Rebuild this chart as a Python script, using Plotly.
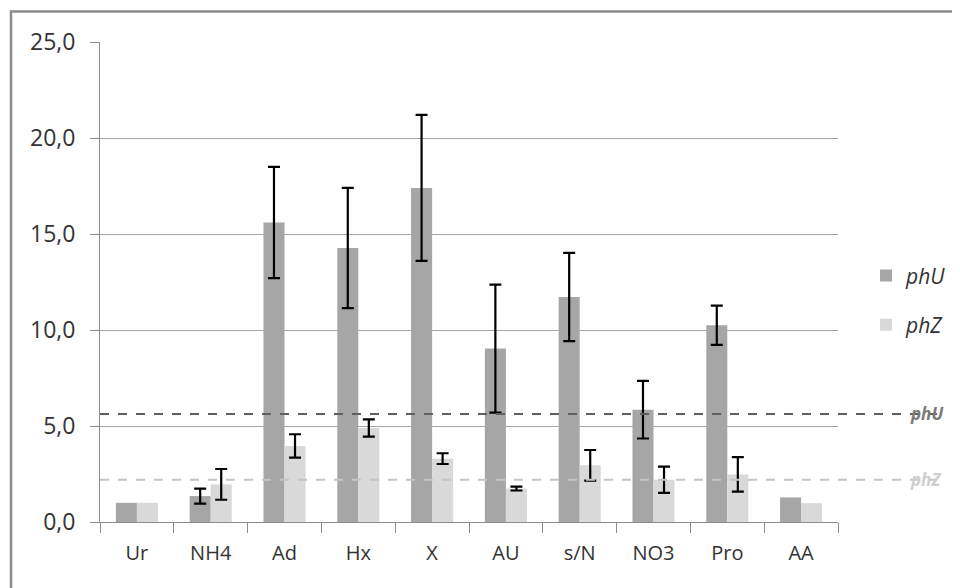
import plotly.graph_objects as go

categories = ["Ur", "NH4", "Ad", "Hx", "X", "AU", "s/N", "NO3", "Pro", "AA"]
phU = [1.0, 1.35, 15.6, 14.27, 17.4, 9.03, 11.72, 5.85, 10.25, 1.28]
phU_err = [None, 0.39, 2.9, 3.13, 3.8, 3.33, 2.3, 1.5, 1.02, None]
phZ = [1.0, 1.96, 3.96, 4.9, 3.3, 1.74, 2.95, 2.2, 2.48, 0.98]
phZ_err = [None, 0.8, 0.61, 0.45, 0.28, 0.1, 0.8, 0.68, 0.9, None]
ref_names = ["phU", "phZ"]
ref_values = [5.63, 2.2]
ref_colors = ["#5f5f5f", "#c4c4c4"]
ref_text_colors = ["#7a7a7a", "#cfcfcf"]

ytick_vals = [0, 5, 10, 15, 20, 25]

font_family = "Open Sans"
text_color = "#333333"

def err(vals):
    # missing values -> "NaN" so that no error bar (and no cap) is drawn
    arr = [v if v is not None else "NaN" for v in vals]
    return dict(type="data", array=arr,
                visible=True, color="black", thickness=2.2, width=6)

fig = go.Figure()
fig.add_trace(go.Bar(name="phU", x=categories, y=phU, marker_color="#a6a6a6",
                     marker_line_width=0, error_y=err(phU_err), legendgroup="a"))
fig.add_trace(go.Bar(name="phZ", x=categories, y=phZ, marker_color="#d9d9d9",
                     marker_line_width=0, error_y=err(phZ_err), legendgroup="b"))

# page body has an 8px margin -> shift all pixel positions by 8
OFF = 8
L, R_px, T, B = 100 - OFF, 838 - OFF, 41.5 - OFF, 521.7 - OFF
W, H = 960 - OFF, 588 - OFF
pw = R_px - L
ph = B - T

shapes = []
annotations = []
for name, val, col, tcol in zip(ref_names, ref_values, ref_colors, ref_text_colors):
    shapes.append(dict(type="line", xref="paper", yref="y",
                       x0=0, x1=(944 - OFF - L) / pw, y0=val, y1=val,
                       line=dict(color=col, width=2, dash="dash"), layer="above"))
    annotations.append(dict(xref="paper", yref="y", x=(908 - OFF - L) / pw, y=val,
                            xanchor="left", yanchor="middle", showarrow=False,
                            text="<b><i>%s</i></b>" % name,
                            font=dict(family=font_family, size=17, color=tcol)))

# outer chart frame (partially visible)
shapes.append(dict(type="path", xref="paper", yref="paper",
                   path="M %f %f L %f %f L %f %f" % (
                       (11 - OFF - L) / pw, (B - 600) / ph,
                       (11 - OFF - L) / pw, (B - (11 - OFF)) / ph,
                       (970 - L) / pw, (B - (11 - OFF)) / ph),
                   line=dict(color="#8c8c8c", width=2.5)))

fig.update_layout(
    template="none",
    width=W, height=H,
    margin=dict(l=L, r=W - R_px, t=T, b=H - B, pad=0, autoexpand=False),
    paper_bgcolor="white", plot_bgcolor="white",
    separators=", ",
    barmode="group", bargap=0.43, bargroupgap=0,
    font=dict(family=font_family, color=text_color, size=20),
    shapes=shapes, annotations=annotations,
    legend=dict(x=(866 - OFF - L) / pw, y=(B - (300 - OFF)) / ph, xanchor="left", yanchor="middle",
                font=dict(family=font_family, size=21, color=text_color, style="italic"),
                tracegroupgap=19, itemwidth=30, bgcolor="rgba(0,0,0,0)"),
    showlegend=True,
)
fig.update_yaxes(range=[0, 25], tickvals=ytick_vals, tickformat=".1f",
                 showgrid=True, gridcolor="#a6a6a6", gridwidth=1,
                 showline=True, linecolor="#8c8c8c", linewidth=1,
                 ticks="outside", ticklen=9, tickcolor="#8c8c8c",
                 ticklabelstandoff=10, zeroline=False, automargin=False,
                 tickfont=dict(size=23, color=text_color))
fig.update_xaxes(showline=True, linecolor="#8c8c8c", linewidth=1,
                 ticks="outside", ticklen=10, tickcolor="#8c8c8c",
                 tickson="boundaries", showgrid=False, automargin=False,
                 ticklabelstandoff=13,
                 tickfont=dict(size=20, color=text_color))

fig.write_html("out.html")
